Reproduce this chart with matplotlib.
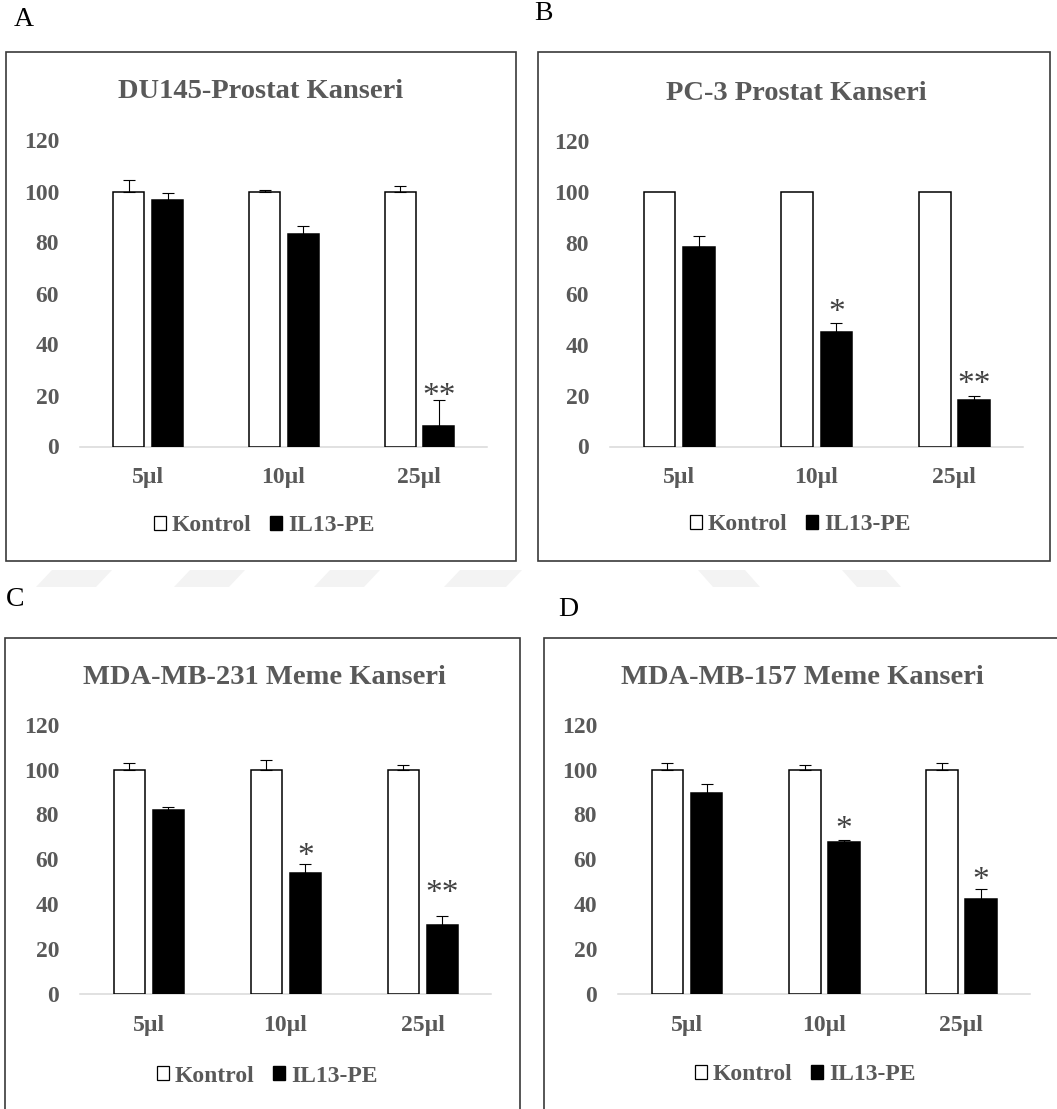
import matplotlib
matplotlib.use('Agg')
import matplotlib.pyplot as plt
from matplotlib.patches import Rectangle, Polygon, Patch
from matplotlib.transforms import offset_copy
import numpy as np

# ---------------- data ----------------
categories = ['5µl', '10µl', '25µl']
series_names = ['Kontrol', 'IL13-PE']
titles = ['DU145-Prostat Kanseri', 'PC-3 Prostat Kanseri',
          'MDA-MB-231 Meme Kanseri', 'MDA-MB-157 Meme Kanseri']
panel_letters = ['A', 'B', 'C', 'D']
yticks = [0, 20, 40, 60, 80, 100, 120]

kontrol_A = [100, 100, 100]
kontrol_err_A = [4.5, 0.7, 2.0]
il13_A = [96.7, 83.3, 8.2]
il13_err_A = [2.9, 3.1, 9.9]
sig_A = ['', '', '**']
sig_level_A = [0, 0, 22.5]

kontrol_B = [100, 100, 100]
kontrol_err_B = [0, 0, 0]
il13_B = [78.3, 45.0, 18.3]
il13_err_B = [4.3, 3.6, 1.7]
sig_B = ['', '*', '**']
sig_level_B = [0, 55.3, 27.1]

kontrol_C = [100, 100, 100]
kontrol_err_C = [3.1, 4.4, 2.2]
il13_C = [82.0, 53.9, 30.8]
il13_err_C = [1.4, 4.2, 3.9]
sig_C = ['', '*', '**']
sig_level_C = [0, 64.6, 48.0]

kontrol_D = [100, 100, 100]
kontrol_err_D = [3.1, 2.2, 3.1]
il13_D = [89.4, 67.7, 42.2]
il13_err_D = [4.2, 1.1, 4.7]
sig_D = ['', '*', '*']
sig_level_D = [0, 76.3, 53.7]

panels_data = [
    (kontrol_A, kontrol_err_A, il13_A, il13_err_A, sig_A, sig_level_A),
    (kontrol_B, kontrol_err_B, il13_B, il13_err_B, sig_B, sig_level_B),
    (kontrol_C, kontrol_err_C, il13_C, il13_err_C, sig_C, sig_level_C),
    (kontrol_D, kontrol_err_D, il13_D, il13_err_D, sig_D, sig_level_D),
]

# ---------------- layout (pixels, top-left origin) ----------------
W, H = 1057, 1109
plt.rcParams['font.family'] = ['Liberation Serif', 'DejaVu Serif']
plt.rcParams['font.weight'] = 'bold'
TXT = '#595959'
STAR_FS = 24

fig = plt.figure(figsize=(W / 100, H / 100), dpi=100)
fig.patch.set_facecolor('white')

def fx(x):
    return x / W

def fy(y):
    return 1 - y / H

layout = [
    dict(box=(6, 52, 516, 561), ax=(80, 140.5, 487, 446.5), title=(261, 92),
         legend=(264, 526), letter=(24, 19)),
    dict(box=(538, 52, 1050, 561), ax=(610, 141, 1023, 446.5), title=(796, 93),
         legend=(800, 525), letter=(543, 13)),
    dict(box=(5, 638, 520, 1125), ax=(80, 724.6, 491, 994), title=(264, 678),
         legend=(267, 1076), letter=(15, 600)),
    dict(box=(543.5, 638, 1075, 1125), ax=(618, 724.6, 1030, 994), title=(802, 678),
         legend=(805, 1075), letter=(568, 610)),
]

# faint watermark shapes between rows
for (a, b), off in [((52, 112), -16), ((190, 245), -16), ((330, 380), -16),
                    ((460, 522), -16), ((698, 745), 15), ((842, 886), 15)]:
    pts = [(fx(a), fy(570)), (fx(b), fy(570)), (fx(b + off), fy(587)), (fx(a + off), fy(587))]
    fig.patches.append(Polygon(pts, closed=True, transform=fig.transFigure,
                               facecolor='#f3f3f3', edgecolor='none', zorder=0))

bar_w = 0.23
x = np.arange(len(categories))

for i, (lay, data) in enumerate(zip(layout, panels_data)):
    k, kerr, il, ilerr, sig, sig_level = data
    bx0, by0, bx1, by1 = lay['box']
    fig.patches.append(Rectangle((fx(bx0), fy(by1)), fx(bx1) - fx(bx0), fy(by0) - fy(by1),
                                 transform=fig.transFigure, facecolor='none',
                                 edgecolor='#3a3a3a', linewidth=1.2, zorder=1))
    ax0, ay0, ax1, ay1 = lay['ax']
    ax = fig.add_axes([fx(ax0), fy(ay1), fx(ax1) - fx(ax0), fy(ay0) - fy(ay1)])
    ax.set_facecolor('none')
    ax.set_xlim(-0.5, 2.5)
    ax.set_ylim(0, 120)
    ax.bar(x - 0.14, k, bar_w, color='white', edgecolor='black', linewidth=1.1, zorder=3)
    ax.bar(x + 0.145, il, bar_w, color='black', edgecolor='black', linewidth=1.1, zorder=3)
    for xi, v, e in zip(x - 0.14, k, kerr):
        if e > 0:
            ax.errorbar([xi], [v], yerr=[[0], [e]], fmt='none', ecolor='black',
                        elinewidth=0.8, capsize=4.5, capthick=0.8, zorder=4)
    for xi, v, e in zip(x + 0.145, il, ilerr):
        if e > 0:
            ax.errorbar([xi], [v], yerr=[[0], [e]], fmt='none', ecolor='black',
                        elinewidth=0.8, capsize=4.5, capthick=0.8, zorder=4)
    star_trans = offset_copy(ax.transData, fig=fig, y=-0.47 * STAR_FS, units='points')
    for xi, s, lv in zip(x + 0.145, sig, sig_level):
        if s:
            ax.text(xi, lv, s, ha='center', va='baseline', fontsize=STAR_FS,
                    color='#404040', fontweight='normal', transform=star_trans)
    ax.set_yticks(yticks)
    ax.set_xticks(x)
    ax.set_xticklabels(categories)
    ax.tick_params(axis='both', length=0, labelsize=17, labelcolor=TXT)
    ax.tick_params(axis='y', pad=15)
    ax.tick_params(axis='x', pad=15)
    for sp in ['top', 'right', 'left']:
        ax.spines[sp].set_visible(False)
    ax.spines['bottom'].set_color('#d9d9d9')
    ax.spines['bottom'].set_linewidth(1.1)
    ax.spines['bottom'].set_zorder(2)

    tx, ty = lay['title']
    fig.text(fx(tx), fy(ty), titles[i], ha='center', va='center',
             fontsize=20.5, color=TXT, fontweight='bold')
    lx, ly = lay['letter']
    fig.text(fx(lx), fy(ly), panel_letters[i], ha='center', va='center',
             fontsize=20, color='black', fontweight='normal')

    handles = [Patch(facecolor='white', edgecolor='black', linewidth=0.9),
               Patch(facecolor='black', edgecolor='black')]
    lgx, lgy = lay['legend']
    leg = ax.legend(handles, series_names, loc='center',
                    bbox_to_anchor=(fx(lgx), fy(lgy)), bbox_transform=fig.transFigure,
                    ncol=2, frameon=False, handlelength=0.5, handleheight=0.5,
                    handletextpad=0.25, columnspacing=0.8, fontsize=17,
                    borderpad=0, borderaxespad=0)
    for t in leg.get_texts():
        t.set_color(TXT)

fig.savefig('out.png', dpi=100, facecolor='white')
